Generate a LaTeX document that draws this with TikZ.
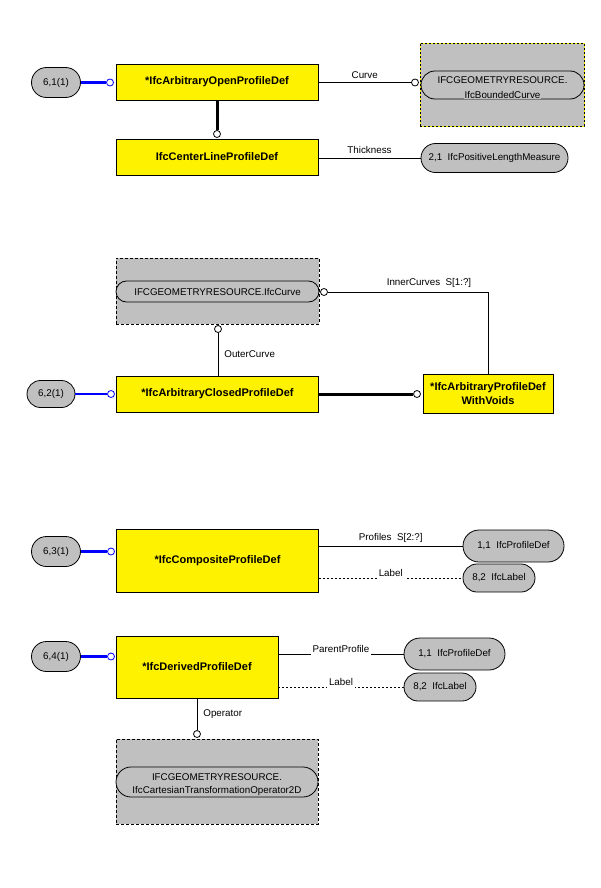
\documentclass[tikz,border=0pt]{standalone}
\usepackage{fontspec}
\setmainfont{Liberation Sans}
\usetikzlibrary{positioning,shapes.misc,calc}
\definecolor{pillgray}{RGB}{192,192,192}

\begin{document}
\begin{tikzpicture}[x=1pt, y=-1pt,
  entity/.style={draw, line width=0.8pt, fill=yellow, minimum width=202pt, minimum height=36pt, align=center, inner sep=0pt, font=\fontsize{11}{14}\selectfont\bfseries},
  refpill/.style={draw, line width=0.8pt, fill=pillgray, rounded rectangle, minimum width=49pt, minimum height=30pt, inner sep=0pt, font=\fontsize{9.8}{11}\selectfont},
  typepill/.style={draw, line width=0.8pt, fill=pillgray, rounded rectangle, minimum height=29pt, inner sep=0pt, font=\fontsize{9.8}{11}\selectfont},
  schemabox/.style={draw, line width=0.8pt, dash pattern=on 3pt off 2pt, fill=pillgray, inner sep=0pt},
  yschemabox/.style={draw=yellow, line width=0.8pt, fill=pillgray, inner sep=0pt, postaction={draw=black, line width=0.8pt, dash pattern=on 2pt off 2pt}},
  ringend/.style={circle, draw, line width=0.8pt, fill=white, inner sep=0pt, minimum size=7pt},
  blueend/.style={ringend, draw=blue},
  attr/.style={font=\fontsize{9.8}{11}\selectfont, inner sep=1pt},
  gaplabel/.style={attr, fill=white, inner sep=2pt, above=-1pt},
  link/.style={line width=0.8pt},
  bluelink/.style={line width=2.3pt, blue},
  thicklink/.style={line width=3pt}
]
\useasboundingbox (0,0) rectangle (600,888);

% Section 1: open profile
\node[refpill] (r61) at (56,82.5) {6,1(1)};
\node[blueend] (c61) at (110,82.5) {};
\node[entity] (openpd) at (217,82) {*IfcArbitraryOpenProfileDef};
\node[yschemabox, minimum width=164pt, minimum height=83pt] (geo1) at (502,84.5) {};
\node[typepill, minimum width=163pt, minimum height=28pt, text depth=9pt] (bcurve) at (502.5,85) {IFCGEOMETRYRESOURCE.};
\node[attr, fill=pillgray, inner sep=0.5pt] (bcurvesub) at ([yshift=4pt]bcurve.south) {IfcBoundedCurve};
\node[ringend] (ccurve) at (415,82.5) {};
\node[ringend] (csub1) at (217,134) {};
\node[entity] (centerpd) at (217,157) {IfcCenterLineProfileDef};
\node[typepill, minimum width=147pt] (plm) at (494.5,158) {2,1~~IfcPositiveLengthMeasure};

\draw[bluelink] (r61.east) -- (c61.west);
\draw[link] (ccurve.west -| openpd.east) -- (ccurve.west) node[midway, above=3pt, attr] {Curve};
\draw[thicklink] (openpd.south) -- (csub1.north);
\draw[link] (plm.west -| centerpd.east) -- (plm.west) node[midway, above=3pt, attr] {Thickness};

% Section 2: closed profile
\node[schemabox, minimum width=203pt, minimum height=66pt] (geo2) at (217.5,291) {};
\node[typepill, minimum width=203pt, minimum height=21pt] (curve2) at (217.5,291.5) {IFCGEOMETRYRESOURCE.IfcCurve};
\node[ringend] (cinner) at (324,292) {};
\node[ringend] (couter) at (218,329) {};
\node[refpill, minimum width=48pt, minimum height=27pt] (r62) at (51,394) {6,2(1)};
\node[blueend] (c62) at (111,394) {};
\node[entity] (closedpd) at (217.5,394) {*IfcArbitraryClosedProfileDef};
\node[ringend] (cvoids) at (417,394) {};
\node[entity, minimum width=130pt, minimum height=39pt] (voidspd) at (488,393.5) {*IfcArbitraryProfileDef\\WithVoids};
\node[attr] (innerlbl) at (429,283) {InnerCurves~~S[1:?]};

\draw[link] (cinner.east) -| (voidspd.north);
\draw[link] (couter.south) -- (couter.south |- closedpd.north) node[midway, right=5pt, attr] {OuterCurve};
\draw[bluelink] (r62.east) -- (c62.west);
\draw[thicklink] (closedpd.east) -- (cvoids.west);

% Section 3: composite profile
\node[refpill] (r63) at (56,551.5) {6,3(1)};
\node[blueend] (c63) at (111,551.5) {};
\node[entity, minimum height=63pt] (comppd) at (217.5,560.5) {*IfcCompositeProfileDef};
\node[typepill, minimum width=101pt, minimum height=32pt] (pd3) at (513.5,546) {1,1~~IfcProfileDef};
\node[typepill, minimum width=72pt, minimum height=28pt] (lb3) at (499,578) {8,2~~IfcLabel};

\draw[bluelink] (r63.east) -- (c63.west);
\draw[link] (pd3.west -| comppd.east) -- (pd3.west) node[midway, above=2pt, attr] {Profiles~~S[2:?]};
\draw[link, dash pattern=on 2pt off 2pt] (lb3.west -| comppd.east) -- (lb3.west) node[midway, gaplabel] {Label};

% Section 4: derived profile
\node[refpill] (r64) at (56,656.5) {6,4(1)};
\node[blueend] (c64) at (111,656.5) {};
\node[entity, minimum width=162pt, minimum height=62pt] (derivpd) at (197,667) {*IfcDerivedProfileDef};
\node[typepill, minimum width=101pt, minimum height=32pt] (pd4) at (454.5,654) {1,1~~IfcProfileDef};
\node[typepill, minimum width=72pt, minimum height=28pt] (lb4) at (440,687) {8,2~~IfcLabel};
\node[ringend] (coper) at (197,734) {};
\node[schemabox, minimum width=202pt, minimum height=85pt] (geo4) at (217,781.5) {};
\node[typepill, minimum width=202pt, minimum height=30pt, text depth=9pt] (op4) at (217,782) {IFCGEOMETRYRESOURCE.};
\node[attr, fill=pillgray, inner sep=0.5pt] (op4sub) at ([yshift=6pt]op4.south) {IfcCartesianTransformationOperator2D};

\draw[bluelink] (r64.east) -- (c64.west);
\draw[link] (pd4.west -| derivpd.east) -- (pd4.west) node[midway, gaplabel] {ParentProfile};
\draw[link, dash pattern=on 2pt off 2pt] (lb4.west -| derivpd.east) -- (lb4.west) node[midway, gaplabel] {Label};
\draw[link] (derivpd.south) -- (coper.north) node[midway, right=5pt, attr] {Operator};

\end{tikzpicture}
\end{document}
